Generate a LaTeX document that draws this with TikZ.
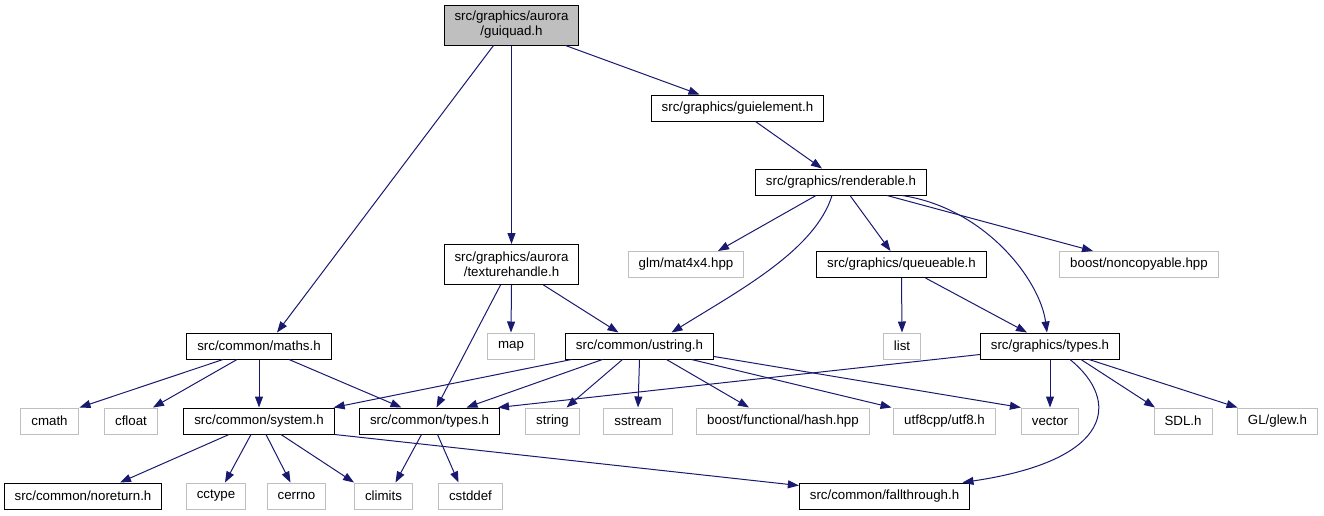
\documentclass[tikz,border=0pt]{standalone}
\usepackage{fontspec}
\setmainfont{Liberation Sans}
\usetikzlibrary{arrows.meta}
\definecolor{edgeblue}{HTML}{191970}
\definecolor{boxgray}{HTML}{BFBFBF}
\begin{document}
\begin{tikzpicture}[x=1pt,y=-1pt,
        hdr/.style={draw=black,line width=1pt,inner xsep=10.5pt,inner ysep=0pt,minimum height=26pt,font=\fontsize{13.3}{15}\selectfont},
        ext/.style={hdr,draw=boxgray},
        root/.style={hdr,fill=boxgray,align=center,minimum height=40pt},
        inc/.style={draw=edgeblue,line width=1pt,-{Triangle[length=11pt,width=8pt]}}]
        \useasboundingbox (0,0) rectangle (1324,515);
        \node [root] (guiquad) at (511.5,25) {src/graphics/aurora\\/guiquad.h};
        \node [hdr] (guielement) at (737.5,108) {src/graphics/guielement.h};
        \node [hdr] (renderable) at (841,182) {src/graphics/renderable.h};
        \node [ext] (glm) at (686,264.5) {glm/mat4x4.hpp};
        \node [hdr] (queueable) at (901.5,264.5) {src/graphics/queueable.h};
        \node [ext] (noncopy) at (1139,264.5) {boost/noncopyable.hpp};
        \node [hdr,align=center,minimum height=40pt] (texhandle) at (511.5,264.5) {src/graphics/aurora\\/texturehandle.h};
        \node [hdr] (maths) at (259,346) {src/common/maths.h};
        \node [ext] (map) at (511,346) {map};
        \node [hdr] (ustring) at (639.5,346) {src/common/ustring.h};
        \node [ext] (list) at (902,346) {list};
        \node [hdr] (gtypes) at (1050,346) {src/graphics/types.h};
        \node [ext] (cmath) at (49.5,421) {cmath};
        \node [ext] (cfloat) at (131,421) {cfloat};
        \node [hdr] (system) at (259,421) {src/common/system.h};
        \node [hdr] (ctypes) at (429.5,421) {src/common/types.h};
        \node [ext] (string) at (552.5,421) {string};
        \node [ext] (sstream) at (638,421) {sstream};
        \node [ext] (hash) at (783,421) {boost/functional/hash.hpp};
        \node [ext] (utf8) at (944.5,421) {utf8cpp/utf8.h};
        \node [ext] (vector) at (1050,421) {vector};
        \node [ext] (sdl) at (1183,421) {SDL.h};
        \node [ext] (glew) at (1277.5,421) {GL/glew.h};
        \node [hdr] (noreturn) at (83,496) {src/common/noreturn.h};
        \node [ext] (cctype) at (216,496) {cctype};
        \node [ext] (cerrno) at (296.5,496) {cerrno};
        \node [ext] (climits) at (383.5,496) {climits};
        \node [ext] (cstddef) at (470.5,496) {cstddef};
        \node [hdr] (fallthrough) at (884.5,496) {src/common/fallthrough.h};
        \draw [inc] ([xshift=-18pt]guiquad.south) -- ([xshift=18pt]maths.north);
        \draw [inc] (guiquad.south) -- (texhandle.north);
        \draw [inc] ([xshift=54pt]guiquad.south) -- ([xshift=-38pt]guielement.north);
        \draw [inc] ([xshift=18pt]guielement.south) -- ([xshift=-19pt]renderable.north);
        \draw [inc] ([xshift=-25pt]renderable.south) -- ([xshift=32pt]glm.north);
        \draw [inc] ([xshift=-9pt]renderable.south) .. controls (815,250) and (740,290) .. ([xshift=32pt]ustring.north);
        \draw [inc] ([xshift=9pt]renderable.south) -- ([xshift=-11pt]queueable.north);
        \draw [inc] ([xshift=61pt]renderable.south) .. controls (985,208) and (1040,280) .. ([xshift=-3pt]gtypes.north);
        \draw [inc] ([xshift=46pt]renderable.south) -- ([xshift=-46pt]noncopy.north);
        \draw [inc] ([xshift=-11pt]texhandle.south) -- ([xshift=7pt]ctypes.north);
        \draw [inc] (texhandle.south) -- (map.north);
        \draw [inc] ([xshift=32pt]texhandle.south) -- ([xshift=-21pt]ustring.north);
        \draw [inc] (queueable.south) -- (list.north);
        \draw [inc] ([xshift=24pt]queueable.south) -- ([xshift=-23pt]gtypes.north);
        \draw [inc] ([xshift=-36pt]maths.south) -- ([xshift=30pt]cmath.north);
        \draw [inc] ([xshift=-22pt]maths.south) -- ([xshift=22pt]cfloat.north);
        \draw [inc] (maths.south) -- (system.north);
        \draw [inc] ([xshift=30pt]maths.south) -- ([xshift=-28pt]ctypes.north);
        \draw [inc] ([xshift=-68pt]ustring.south) -- ([xshift=-1pt]system.north east);
        \draw [inc] ([xshift=-37pt]ustring.south) -- ([xshift=37pt]ctypes.north);
        \draw [inc] ([xshift=-17pt]ustring.south) -- ([xshift=14pt]string.north);
        \draw [inc] (ustring.south) -- (sstream.north);
        \draw [inc] ([xshift=27pt]ustring.south) -- ([xshift=-34pt]hash.north);
        \draw [inc] ([xshift=52pt]ustring.south) -- ([xshift=-53pt]utf8.north);
        \draw [inc] ([yshift=3pt]ustring.south east) -- (vector.north west);
        \draw [inc] ([yshift=5pt]gtypes.south west) -- ([xshift=-2pt]ctypes.north east);
        \draw [inc] (gtypes.south) -- (vector.north);
        \draw [inc] ([xshift=31pt]gtypes.south) -- ([xshift=-28pt]sdl.north);
        \draw [inc] ([xshift=39pt]gtypes.south) -- ([xshift=-40pt]glew.north);
        \draw [inc] ([xshift=20pt]gtypes.south) .. controls (1120,400) and (1115,460) .. ([xshift=78pt]fallthrough.north);
        \draw [inc] ([xshift=-30pt]system.south) -- ([xshift=37pt]noreturn.north);
        \draw [inc] ([xshift=-8pt]system.south) -- ([xshift=9pt]cctype.north);
        \draw [inc] ([xshift=7pt]system.south) -- ([xshift=-6pt]cerrno.north);
        \draw [inc] ([xshift=22pt]system.south) -- (climits.north west);
        \draw [inc] (system.south east) -- ([yshift=-3pt]fallthrough.north west);
        \draw [inc] ([xshift=-8pt]ctypes.south) -- ([xshift=12pt]climits.north);
        \draw [inc] ([xshift=8pt]ctypes.south) -- ([xshift=-12pt]cstddef.north);
    \end{tikzpicture}
\end{document}
